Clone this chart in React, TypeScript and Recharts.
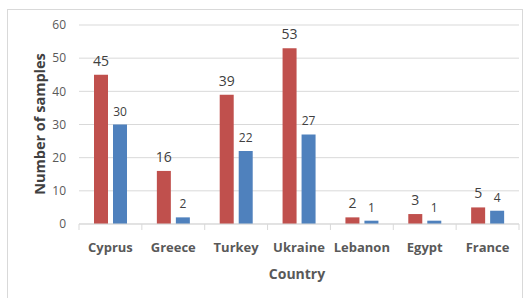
import React from 'react';
import { BarChart, Bar, XAxis, YAxis, CartesianGrid, LabelList, Label } from 'recharts';

const countries = ['Cyprus', 'Greece', 'Turkey', 'Ukraine', 'Lebanon', 'Egypt', 'France'];
const seriesA = [45, 16, 39, 53, 2, 3, 5];
const seriesB = [30, 2, 22, 27, 1, 1, 4];
const yTicks = [0, 10, 20, 30, 40, 50, 60];

const data = countries.map((name, i) => ({ name, a: seriesA[i], b: seriesB[i] }));

const FONT = '"Open Sans", sans-serif';
const W = 526;
const H = 298;
const M = { top: 25, right: 7, bottom: 0, left: 0 };
const Y_W = 79;
const X_H = 74;
const band = (W - M.left - M.right - Y_W) / countries.length;

const CountryTick = (props: any) => {
  const { x, y, payload, index } = props;
  const left = x - band / 2;
  return (
    <g>
      <line x1={left} x2={left} y1={y - 8} y2={y - 2} stroke="#d9d9d9" />
      {index === countries.length - 1 && (
        <line x1={x + band / 2} x2={x + band / 2} y1={y - 8} y2={y - 2} stroke="#d9d9d9" />
      )}
      <text x={x} y={y + 20} textAnchor="middle" fontFamily={FONT} fontSize={13} fontWeight="bold" fill="#595959">
        {payload.value}
      </text>
    </g>
  );
};

const YTitle = () => (
  <text
    x={39}
    y={124}
    transform="rotate(-90 39 124)"
    textAnchor="middle"
    dominantBaseline="central"
    fontFamily={FONT}
    fontSize={14.5}
    fontWeight="bold"
    fill="#404040"
  >
    Number of samples
  </text>
);

export default function App() {
  return (
    <div style={{ position: 'absolute', left: 0, top: 0, width: W, height: H, background: '#fff' }}>
      <div style={{ position: 'absolute', left: 7, top: 9, width: 514, height: 300, border: '1px solid #d9d9d9' }} />
      <BarChart width={W} height={H} data={data} margin={M} barSize={14} barGap={5}>
        <CartesianGrid vertical={false} stroke="#d9d9d9" />
        <XAxis dataKey="name" height={X_H} stroke="#d9d9d9" tickLine={false} tick={<CountryTick />} interval={0}>
          <Label value="Country" position="insideBottom" offset={19} dx={-2} fontFamily={FONT} fontSize={14} fontWeight="bold" fill="#595959" />
        </XAxis>
        <YAxis
          width={Y_W}
          domain={[0, 60]}
          ticks={yTicks}
          axisLine={false}
          tickLine={false}
          tick={{ fontFamily: FONT, fontSize: 12, fill: '#595959', dx: -5 }}
        >
          <Label content={<YTitle />} />
        </YAxis>
        <Bar dataKey="a" fill="#C0504D" isAnimationActive={false}>
          <LabelList dataKey="a" position="top" offset={9} fontFamily={FONT} fontSize={14} fill="#404040" />
        </Bar>
        <Bar dataKey="b" fill="#4F81BD" isAnimationActive={false}>
          <LabelList dataKey="b" position="top" offset={9} fontFamily={FONT} fontSize={12} fill="#404040" />
        </Bar>
      </BarChart>
    </div>
  );
}
